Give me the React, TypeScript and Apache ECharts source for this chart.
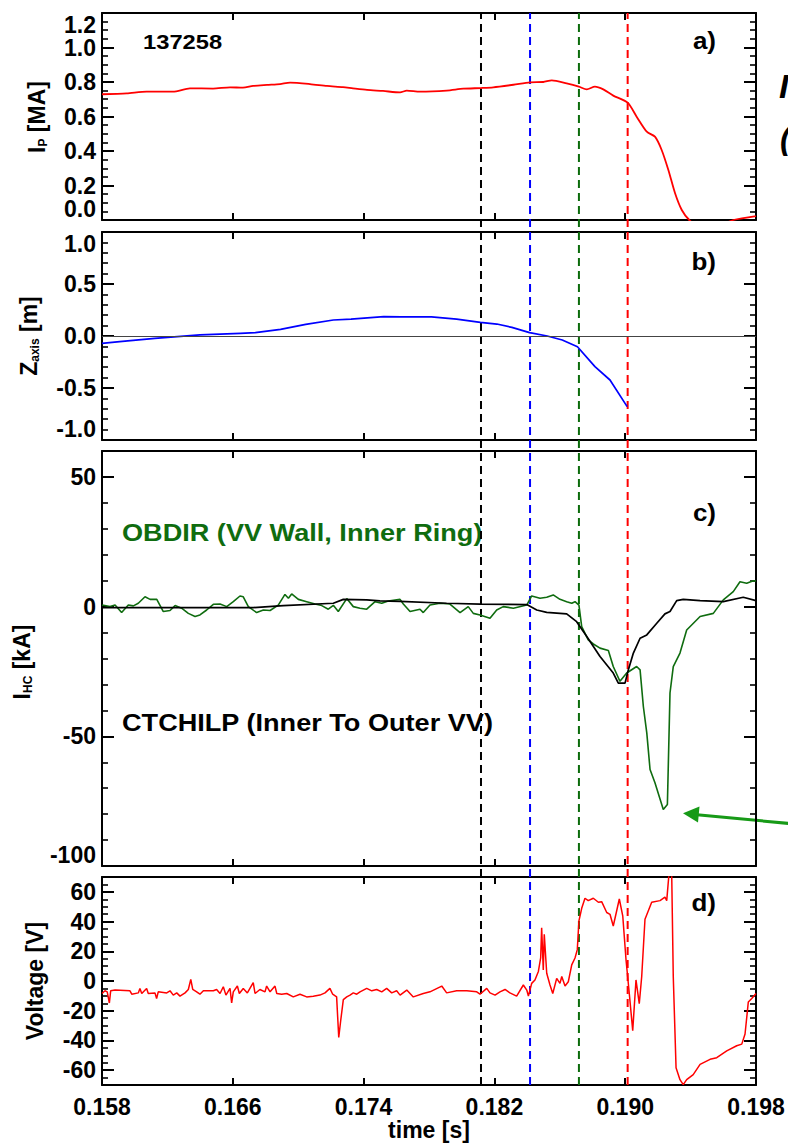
import React, { useEffect, useRef } from "react";
import * as echarts from "echarts";

const FONT = '"Liberation Sans", Arial, Helvetica, sans-serif';

// ---- time axis ----
const X_MIN = 0.158;
const X_MAX = 0.198;
const X_STEP = 0.008;

// ---- a) plasma current I_P [MA] ----
const ipTime = [0.158, 0.15951, 0.16073, 0.16234, 0.16338, 0.16479, 0.16583, 0.16662, 0.16724, 0.16809, 0.16889, 0.1695, 0.17072, 0.17176, 0.17274, 0.17335, 0.17421, 0.17519, 0.17623, 0.17664, 0.17745, 0.17908, 0.1801, 0.18118, 0.18193, 0.18316, 0.18418, 0.18499, 0.18551, 0.18642, 0.18717, 0.18765, 0.18815, 0.18866, 0.18927, 0.19015, 0.1907, 0.19132, 0.19182, 0.19223, 0.19264, 0.19305, 0.19346, 0.19392, 0.1945, 0.1955, 0.19661, 0.198];
const ipValues = [0.729, 0.734, 0.744, 0.744, 0.763, 0.762, 0.769, 0.767, 0.777, 0.783, 0.788, 0.796, 0.788, 0.777, 0.77, 0.763, 0.754, 0.748, 0.74, 0.75, 0.744, 0.75, 0.761, 0.765, 0.769, 0.784, 0.798, 0.8, 0.81, 0.792, 0.773, 0.757, 0.773, 0.757, 0.721, 0.68, 0.599, 0.512, 0.483, 0.406, 0.29, 0.155, 0.058, 0.0, -0.04, -0.04, 0.0, 0.023];

// ---- b) Z_axis [m] ----
const zTime = [0.158, 0.15908, 0.16123, 0.16399, 0.16646, 0.16738, 0.16892, 0.17046, 0.17215, 0.17323, 0.17523, 0.17631, 0.17815, 0.17969, 0.18114, 0.18215, 0.18307, 0.18415, 0.18523, 0.18615, 0.18708, 0.18815, 0.18907, 0.19012];
const zValues = [-0.071, -0.054, -0.022, 0.01, 0.026, 0.032, 0.064, 0.112, 0.154, 0.163, 0.186, 0.183, 0.183, 0.163, 0.131, 0.115, 0.083, 0.032, 0.0, -0.038, -0.103, -0.295, -0.423, -0.679];

// ---- c) halo currents I_HC [kA] ----
const ctchilpTime = [0.158, 0.16725, 0.16909, 0.17215, 0.17276, 0.17419, 0.175, 0.17623, 0.17908, 0.18112, 0.18398, 0.18459, 0.1852, 0.18642, 0.18703, 0.18765, 0.18846, 0.18927, 0.18958, 0.18999, 0.19019, 0.1905, 0.19091, 0.19132, 0.19193, 0.19243, 0.19274, 0.19315, 0.19355, 0.19458, 0.196, 0.19722, 0.198];
const ctchilpValues = [-0.4, -0.4, 0.4, 1.3, 2.8, 2.6, 2.2, 2.0, 1.3, 1.0, 0.8, -1.3, -2.2, -2.8, -5.8, -11.5, -19.2, -25.6, -29.5, -29.5, -24.4, -17.9, -12.2, -10.9, -6.4, -2.8, -1.9, 2.3, 2.8, 2.3, 1.9, 3.6, 2.3];

const obdirTime = [
  0.158, 0.15849, 0.1588, 0.1592, 0.15961, 0.15992, 0.16022, 0.16063, 0.16094, 0.16135,
  0.16175, 0.16216, 0.16247, 0.16287, 0.16328, 0.16369, 0.16399, 0.1644, 0.16481, 0.16522,
  0.16563, 0.16603, 0.16644, 0.16664, 0.16695, 0.16746, 0.16787, 0.16828, 0.16878, 0.16919,
  0.1694, 0.1696, 0.17001, 0.17052, 0.17103, 0.17144, 0.17184, 0.17215, 0.17245, 0.17297,
  0.17337, 0.17378, 0.17419, 0.1747, 0.17511, 0.17551, 0.17623, 0.17643, 0.17684, 0.17745,
  0.17765, 0.17806, 0.17867, 0.17928, 0.1799, 0.1804, 0.18071, 0.18112, 0.18173, 0.18214,
  0.18254, 0.18316, 0.18398, 0.18428, 0.18479, 0.1852, 0.1856, 0.18601, 0.18642, 0.18673,
  0.18693, 0.18717, 0.18734, 0.18774, 0.18805, 0.18846, 0.18897, 0.18927, 0.18968, 0.19009,
  0.1907, 0.19091, 0.19111, 0.19132, 0.19152, 0.19182, 0.19233, 0.19258, 0.19274, 0.19294,
  0.19335, 0.19376, 0.19458, 0.19539, 0.196, 0.19661, 0.19702, 0.19743, 0.19784, 0.198,
];
const obdirValues = [
  0.6, 0, 0.6, -2.3, 0.6, 0.3, 1.3, 3.8, 2.8, 2.8,
  -1.9, -1.5, 0.4, -0.6, -2.6, -3.8, -3.2, -1.3, 0.9, 1.0,
  0, 1.9, 4.1, 3.8, 0, -2.3, -1.3, -1.5, 0.6, 4.7,
  3.2, 4.9, 2.8, 1.9, 1.0, 0.4, -1.0, 0.5, -1.9, 3.1,
  0, -0.6, -1.0, 1.9, 1.3, 2.2, 2.8, 1.0, -1.9, -1.0,
  -2.3, 0.6, 1.3, 1.0, -2.3, 0, -2.6, -3.2, -4.5, -1.3,
  0, -0.6, 0.6, 4.1, 3.2, 3.6, 4.5, 2.8, 1.9, 1.3,
  1.9, 0.6, -7.7, -12.8, -14.4, -16.0, -16.9, -23.1, -28.8, -25.6,
  -23.1, -24.4, -38.5, -48.7, -62.8, -67.9, -78.2, -76.3, -33.3, -23.1,
  -17.9, -9.0, -3.8, -2.6, 2.6, 5.8, 9.6, 9.0, 10.0, 9.9,
];

// ---- d) Voltage [V] ----
const voltTime = [
  0.158, 0.15818, 0.15832, 0.15845, 0.15853, 0.1588, 0.15971, 0.15982, 0.16022, 0.16032,
  0.16043, 0.16073, 0.16083, 0.16124, 0.16134, 0.16144, 0.16196, 0.16216, 0.16236, 0.16257,
  0.16277, 0.16308, 0.16328, 0.16343, 0.16355, 0.16379, 0.16399, 0.1642, 0.16481, 0.16501,
  0.16522, 0.16542, 0.16558, 0.16583, 0.16593, 0.16603, 0.16628, 0.1664, 0.16664, 0.16689,
  0.16725, 0.16736, 0.16766, 0.16797, 0.16807, 0.16828, 0.16858, 0.16869, 0.16899, 0.1693,
  0.1697, 0.17011, 0.17052, 0.17092, 0.17133, 0.17164, 0.17194, 0.17211, 0.17235, 0.17248,
  0.1726, 0.17276, 0.17297, 0.17317, 0.17337, 0.17358, 0.17378, 0.17419, 0.1745, 0.1748,
  0.17511, 0.17541, 0.17572, 0.17602, 0.17623, 0.17664, 0.17704, 0.17765, 0.17806, 0.17878,
  0.17908, 0.17969, 0.18031, 0.18092, 0.18112, 0.18153, 0.18173, 0.18204, 0.18234, 0.18265,
  0.18295, 0.18336, 0.18377, 0.18398, 0.18408, 0.18428, 0.18448, 0.18469, 0.18483, 0.18489,
  0.18499, 0.18505, 0.1852, 0.1854, 0.18557, 0.18581, 0.18601, 0.18612, 0.18632, 0.18652,
  0.18673, 0.18693, 0.18707, 0.18717, 0.18734, 0.18754, 0.18774, 0.18805, 0.18836, 0.18856,
  0.18887, 0.18907, 0.18927, 0.18948, 0.18964, 0.18985, 0.19005, 0.19025, 0.19046, 0.19066,
  0.19086, 0.19101, 0.19121, 0.19162, 0.19213, 0.19243, 0.19254, 0.1927, 0.19284, 0.19294,
  0.19311, 0.19335, 0.19355, 0.19376, 0.19416, 0.19458, 0.19519, 0.1956, 0.19621, 0.19682,
  0.19713, 0.19733, 0.19753, 0.19774, 0.198,
];
const voltValues = [
  -8.4, -6.6, -7.3, -14.8, -6.6, -6.1, -6.6, -8.9, -8.0, -5.0,
  -8.4, -5.0, -8.4, -8.0, -11.8, -7.3, -8.0, -6.6, -9.5, -8.0,
  -10.2, -8.0, -5.7, 1.1, -5.7, -7.3, -8.9, -6.6, -6.6, -5.7,
  -8.4, -3.9, -9.5, -5.0, -14.8, -7.3, -3.4, -8.4, -5.0, -8.0,
  -1.1, -8.4, -5.7, -7.3, -3.4, -7.3, -3.4, -8.4, -8.9, -8.4,
  -10.7, -8.9, -10.7, -10.2, -9.5, -8.0, -5.0, -8.9, -10.7, -38.0,
  -26.6, -12.5, -10.7, -9.5, -8.0, -8.9, -7.3, -5.0, -6.6, -5.7,
  -7.3, -5.0, -8.0, -6.6, -9.5, -6.1, -10.7, -8.4, -7.3, -3.4,
  -8.0, -6.6, -6.6, -7.3, -8.9, -5.0, -8.0, -9.5, -7.3, -5.7,
  -8.0, -10.2, -2.7, -6.1, -10.2, -1.6, 0.7, 6.4, 15.5, 35.9,
  7.5, 31.4, 5.2, -2.7, -8.4, 1.8, -1.6, 3.0, -3.4, -0.5,
  10.9, 15.5, 21.1, 40.5, 48.9, 55.7, 54.1, 55.7, 53.0, 53.4,
  46.1, 44.9, 37.0, 47.3, 55.2, 43.9, 14.3, -8.4, -33.4, 0.7,
  -15.2, 3.0, 41.6, 53.0, 54.1, 56.4, 54.1, 75, 75, 3.0,
  -58.4, -66.4, -69.8, -66.4, -63.0, -56.1, -52.7, -51.6, -47.0, -43.6,
  -42.5, -35.7, -14.1, -11.8, -8.4,
];

// ---- event markers (dashed vertical lines) ----
const eventTimes = [0.18118, 0.18418, 0.18717, 0.19015];
const eventColors = ["#000000", "#0000ff", "#0b6b0b", "#ff0000"];

const zip = (t: number[], v: number[]) => t.map((x, i) => [x, v[i]]);

const GREEN = "#0f6c0f";
const LEFT = 102;
const PLOT_W = 654;

const panels = [
  { top: 13, height: 207, min: 0, max: 1.2, interval: 0.2, minor: 0.05, digits: 1, edgeMin: true, edgeMax: true, hideMin: false, hideMax: false },
  { top: 232, height: 208, min: -1, max: 1, interval: 0.5, minor: 0.1, digits: 1, edgeMin: true, edgeMax: true, hideMin: false, hideMax: false },
  { top: 451, height: 415, min: -100, max: 60, interval: 50, minor: 10, digits: 0, edgeMin: true, edgeMax: false, hideMin: false, hideMax: true },
  { top: 877, height: 208, min: -70, max: 70, interval: undefined as any, splitNumber: 7, minor: 5, digits: 0, edgeMin: false, edgeMax: false, hideMin: true, hideMax: true },
];

function buildOption() {
  const grids: any[] = panels.map((p) => ({ left: LEFT, top: p.top, width: PLOT_W, height: p.height }));
  grids.push({ left: LEFT, top: 13, width: PLOT_W, height: 1072 });

  const axisLine = { show: true, onZero: false, lineStyle: { color: "#000", width: 2 } };
  const xAxes: any[] = [];
  const yAxes: any[] = [];
  panels.forEach((p, gi) => {
    const xc = {
      type: "value", gridIndex: gi, min: X_MIN, max: X_MAX, interval: X_STEP,
      axisLine, splitLine: { show: false },
      axisTick: { show: true, inside: true, length: 7, lineStyle: { color: "#000", width: 2 } },
    };
    const last = gi === panels.length - 1;
    xAxes.push({
      ...xc, position: "bottom",
      axisLabel: last
        ? { show: true, margin: 10, color: "#000", fontSize: 23, fontWeight: "bold", fontFamily: FONT, formatter: (v: number) => v.toFixed(3) }
        : { show: false },
      name: last ? "time [s]" : "",
      nameLocation: "middle",
      nameGap: 33,
      nameTextStyle: { color: "#000", fontSize: 23, fontWeight: "bold", fontFamily: FONT },
    });
    xAxes.push({ ...xc, position: "top", axisLabel: { show: false } });

    const base: any = { type: "value", gridIndex: gi, min: p.min, max: p.max, splitLine: { show: false } };
    const major: any = {
      ...base, axisLine,
      axisTick: { show: true, inside: true, length: 12, lineStyle: { color: "#000", width: 2 } },
    };
    if (p.interval !== undefined) major.interval = p.interval;
    if ((p as any).splitNumber) major.splitNumber = (p as any).splitNumber;
    const minor: any = {
      ...base, interval: p.minor, axisLine: { show: false },
      axisTick: { show: true, inside: true, length: 6, lineStyle: { color: "#000", width: 1.6 } },
      axisLabel: { show: false },
    };
    const lbl: any = {
      show: true, margin: 6, color: "#000", fontSize: 23, fontWeight: "bold", fontFamily: FONT,
      formatter: (v: number) => v.toFixed(p.digits),
      showMinLabel: !p.hideMin, showMaxLabel: !p.hideMax,
    };
    if (p.edgeMin) lbl.verticalAlignMinLabel = "bottom";
    if (p.edgeMax) lbl.verticalAlignMaxLabel = "top";
    yAxes.push({ ...major, position: "left", axisLabel: lbl });
    yAxes.push({ ...minor, position: "left" });
    yAxes.push({ ...major, position: "right", axisLabel: { show: false } });
    yAxes.push({ ...minor, position: "right" });
  });
  xAxes.push({ type: "value", gridIndex: 4, min: X_MIN, max: X_MAX, show: false });
  yAxes.push({ type: "value", gridIndex: 4, min: 0, max: 1, show: false });

  const lineBase = { type: "line", symbol: "none", silent: true, clip: true };
  const series: any[] = [
    { ...lineBase, name: "Ip", xAxisIndex: 0, yAxisIndex: 0, data: zip(ipTime, ipValues), smooth: 0.25, lineStyle: { color: "#ff0000", width: 1.8 } },
    {
      ...lineBase, name: "Zaxis", xAxisIndex: 2, yAxisIndex: 4, data: zip(zTime, zValues), lineStyle: { color: "#0000ff", width: 1.7 },
      markLine: { silent: true, symbol: "none", label: { show: false }, lineStyle: { color: "#444", width: 1, type: "solid" }, data: [{ yAxis: 0 }] },
    },
    { ...lineBase, name: "OBDIR", xAxisIndex: 4, yAxisIndex: 8, data: zip(obdirTime, obdirValues), lineStyle: { color: GREEN, width: 1.6 } },
    { ...lineBase, name: "CTCHILP", xAxisIndex: 4, yAxisIndex: 8, data: zip(ctchilpTime, ctchilpValues), lineStyle: { color: "#000", width: 1.7 } },
    { ...lineBase, name: "Voltage", xAxisIndex: 6, yAxisIndex: 12, data: zip(voltTime, voltValues), lineStyle: { color: "#ff0000", width: 1.5 } },
  ];
  eventTimes.forEach((t, i) => {
    series.push({
      ...lineBase, name: "event" + i, xAxisIndex: 8, yAxisIndex: 16,
      data: [[t, 0], [t, 1]], lineStyle: { color: eventColors[i], width: 2, type: [8, 5] }, z: 1,
    });
  });

  const txt = (text: string, x: number, y: number, extra: any = {}, style: any = {}) => ({
    type: "text", x, y, ...extra,
    style: { text, fill: "#000", fontSize: 23, fontWeight: "bold", fontFamily: FONT, align: "left", verticalAlign: "middle", ...style },
  });
  const titleRich = {
    m: { fontSize: 23, fontWeight: "bold", fontFamily: FONT, fill: "#000", lineHeight: 24 },
    s: { fontSize: 12, fontWeight: "bold", fontFamily: FONT, fill: "#000", lineHeight: 12, verticalAlign: "bottom" },
  };
  const graphic: any[] = [
    txt("137258", 143, 42, { scaleX: 1.13 }, { fontSize: 21 }),
    txt("a)", 716, 41, { scaleX: 1.13 }, { align: "right" }),
    txt("b)", 716, 262, { scaleX: 1.13 }, { align: "right" }),
    txt("c)", 716, 513, { scaleX: 1.13 }, { align: "right" }),
    txt("d)", 716, 903, { scaleX: 1.13 }, { align: "right" }),
    txt("OBDIR (VV Wall, Inner Ring)", 122, 533, { scaleX: 1.13 }, { fill: GREEN, fontSize: 24 }),
    txt("CTCHILP (Inner To Outer VV)", 122, 723, { scaleX: 1.13 }, { fontSize: 24 }),
    txt("{m|I}{s|P}{m| [MA]}", 37, 117, { rotation: Math.PI / 2 }, { align: "center", rich: titleRich }),
    txt("{m|Z}{s|axis}{m| [m]}", 29, 336, { rotation: Math.PI / 2 }, { align: "center", rich: titleRich }),
    txt("{m|I}{s|HC}{m| [kA]}", 22, 662, { rotation: Math.PI / 2 }, { align: "center", rich: titleRich }),
    txt("Voltage [V]", 35, 981, { rotation: Math.PI / 2 }, { align: "center" }),
    txt("I", 779, 86, {}, { fontSize: 34, fontStyle: "italic" }),
    txt("(", 780, 138, {}, { fontSize: 32, fontStyle: "italic" }),
    { type: "line", shape: { x1: 800, y1: 824.5, x2: 697, y2: 814.8 }, style: { stroke: "#179a17", lineWidth: 3 } },
    { type: "polygon", shape: { points: [[683, 813.3], [699.5, 806.5], [698, 822.5]] }, style: { fill: "#179a17" } },
  ];

  return {
    animation: false,
    backgroundColor: "#ffffff",
    textStyle: { fontFamily: FONT },
    grid: grids,
    xAxis: xAxes,
    yAxis: yAxes,
    series,
    graphic,
  };
}

export default function App() {
  const ref = useRef<HTMLDivElement>(null);
  useEffect(() => {
    if (!ref.current) return;
    const chart = echarts.init(ref.current, undefined, { renderer: "svg" });
    chart.setOption(buildOption() as any);
    return () => chart.dispose();
  }, []);
  return <div ref={ref} style={{ position: "absolute", left: 0, top: 0, width: 788, height: 1147 }} />;
}
